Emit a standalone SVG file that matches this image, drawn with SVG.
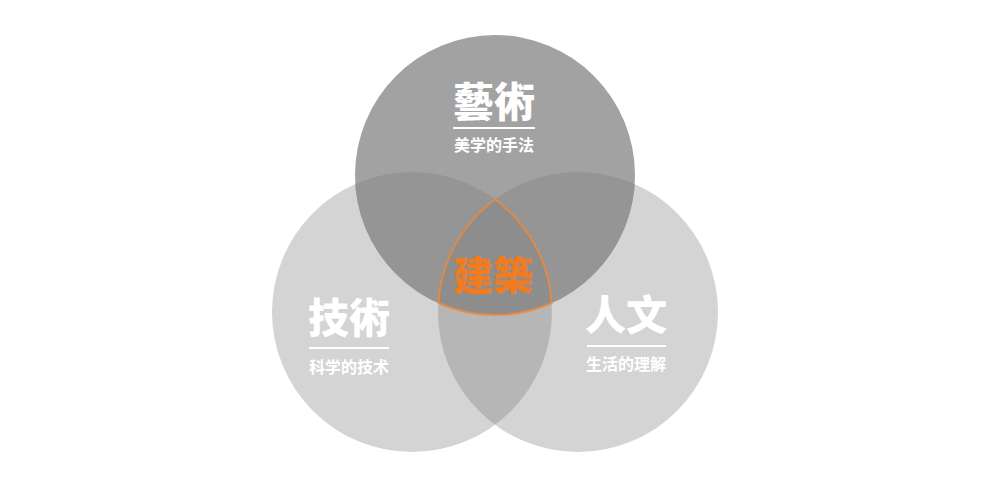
<svg xmlns="http://www.w3.org/2000/svg" width="1000" height="500" viewBox="0 0 1000 500">
<style>
.title{font-family:"Noto Sans CJK SC","Noto Sans CJK JP",sans-serif;font-weight:900;font-size:41px;fill:#ffffff;text-anchor:middle}
.sub{font-family:"Noto Sans CJK SC","Noto Sans CJK JP",sans-serif;font-weight:bold;font-size:16px;fill:#ffffff;text-anchor:middle}
.rule{stroke:#ffffff;stroke-width:2}
.center{font-family:"Noto Sans CJK SC","Noto Sans CJK JP",sans-serif;font-weight:900;font-size:40px;fill:#f07c22;text-anchor:middle}
</style>
<defs>
<clipPath id="clipT"><circle cx="495" cy="175" r="140"/></clipPath>
<clipPath id="clipL"><circle cx="412" cy="312" r="140"/></clipPath>
<clipPath id="clipR"><circle cx="578" cy="312" r="140"/></clipPath>
</defs>
<rect width="1000" height="500" fill="#ffffff"/>
<g id="circles">
<circle cx="412" cy="312" r="140" fill="#d4d4d4"/>
<circle cx="578" cy="312" r="140" fill="#d4d4d4"/>
<g clip-path="url(#clipL)"><circle cx="578" cy="312" r="140" fill="#b6b6b6"/></g>
<circle cx="495" cy="175" r="140" fill="#a2a2a2"/>
<g clip-path="url(#clipT)">
<circle cx="412" cy="312" r="140" fill="#959595"/>
<circle cx="578" cy="312" r="140" fill="#959595"/>
<g clip-path="url(#clipL)"><circle cx="578" cy="312" r="140" fill="#8d8d8d"/></g>
</g>
</g>
<g id="connectors"></g>
<g id="node-art">
<text class="title" x="494" y="117">藝術</text>
<line class="rule" x1="453" y1="128" x2="535" y2="128"/>
<text class="sub" x="494" y="151">美学的手法</text>
</g>
<g id="node-tech">
<text class="title" x="349" y="333">技術</text>
<line class="rule" x1="309" y1="348" x2="389" y2="348"/>
<text class="sub" x="349" y="373">科学的技术</text>
</g>
<g id="node-human">
<text class="title" x="626" y="330">人文</text>
<line class="rule" x1="587" y1="346" x2="666" y2="346"/>
<text class="sub" x="626" y="370">生活的理解</text>
</g>
<g id="node-arch">
<path d="M495,199.3 A140,140 0 0,0 438.3,303 A140,140 0 0,0 551.7,303 A140,140 0 0,0 495,199.3 Z" fill="none" stroke="#f0883a" stroke-width="2" stroke-opacity="0.85"/>
<text class="center" x="493" y="290">建築</text>
</g>
</svg>
